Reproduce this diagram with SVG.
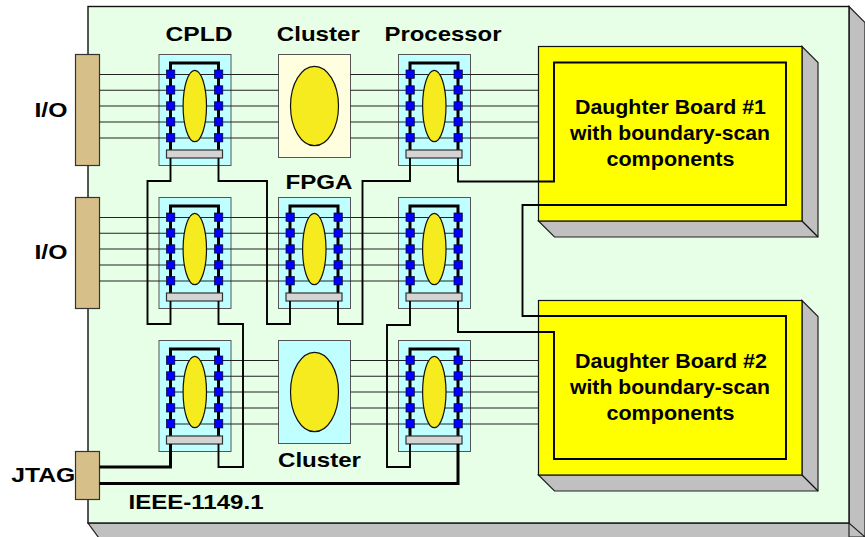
<svg xmlns="http://www.w3.org/2000/svg" xmlns:xlink="http://www.w3.org/1999/xlink" width="865" height="537" viewBox="0 0 865 537">
<style>
text{font-family:"Liberation Sans",Arial,sans-serif;font-weight:bold;fill:#000;text-anchor:middle}
.lbl{font-size:21px}
.db{font-size:20px}
.side{fill:#C0C0C0;stroke:#222;stroke-width:1.2}
.tan{fill:#D7BF8A;stroke:#333;stroke-width:1.2}
.cell{fill:#C0FFFF;stroke:#555;stroke-width:1}
.cream{fill:#FFFFE0;stroke:#555;stroke-width:1}
.el{fill:#F5EB1E;stroke:#111;stroke-width:1.2}
.yellow{fill:#FFFF00;stroke:#111;stroke-width:1.2}
.pin{fill:#0000FF;stroke:#002;stroke-width:.7}
.bar{fill:#D4D4D4;stroke:#333;stroke-width:1.2}
.sig{fill:none;stroke:#222;stroke-width:1.1}
.thick{fill:none;stroke:#000;stroke-width:3}
.wire{fill:none;stroke:#000;stroke-width:1.9}
</style>
<defs>
<g id="chip">
<rect class="cell" x="0.5" y="0.5" width="72" height="111"/>
<path class="sig" d="M12 20.5H60M12 36.3H60M12 52H60M12 68H60M12 84H60"/>
<path class="thick" d="M12 96V9H60V96"/>
<ellipse class="el" cx="36.3" cy="52" rx="11.7" ry="35.7"/>
<g class="pin">
<rect x="8" y="16" width="8.3" height="8.3"/><rect x="8" y="31.8" width="8.3" height="8.3"/><rect x="8" y="47.8" width="8.3" height="8.3"/><rect x="8" y="63.7" width="8.3" height="8.3"/><rect x="8" y="79.6" width="8.3" height="8.3"/>
<rect x="56" y="16" width="8.3" height="8.3"/><rect x="56" y="31.8" width="8.3" height="8.3"/><rect x="56" y="47.8" width="8.3" height="8.3"/><rect x="56" y="63.7" width="8.3" height="8.3"/><rect x="56" y="79.6" width="8.3" height="8.3"/>
</g>
<rect class="bar" x="8" y="96" width="56" height="8"/>
</g>
</defs>
<rect width="865" height="537" fill="#FFFFFF"/>
<g id="board">
<path class="side" d="M849 6.5L865 22.5V537H849ZM88 523H849L865 537V545H104Z"/>
<rect x="88" y="6.5" width="761" height="516.5" fill="#E6FFE6" stroke="#111" stroke-width="1.4"/>
</g>
<g id="io1"><rect class="tan" x="75.5" y="54.5" width="24" height="111"/><text class="lbl" x="51" y="117" textLength="33" lengthAdjust="spacingAndGlyphs">I/O</text></g>
<g id="io2"><rect class="tan" x="75.5" y="197.5" width="24" height="111"/><text class="lbl" x="51" y="258.5" textLength="33" lengthAdjust="spacingAndGlyphs">I/O</text></g>
<g id="jtag"><rect class="tan" x="75.5" y="451.5" width="24" height="48"/><text class="lbl" x="43.3" y="482" textLength="64" lengthAdjust="spacingAndGlyphs">JTAG</text></g>
<g id="cpld"><use xlink:href="#chip" x="158.5" y="54"/><text class="lbl" x="199" y="41" textLength="67" lengthAdjust="spacingAndGlyphs">CPLD</text></g>
<g id="cluster1"><rect class="cream" x="278.5" y="54.5" width="72" height="103"/><ellipse class="el" cx="314.5" cy="106" rx="24" ry="39.7"/><text class="lbl" x="318.3" y="41" textLength="83" lengthAdjust="spacingAndGlyphs">Cluster</text></g>
<g id="processor"><use xlink:href="#chip" x="398" y="54"/><text class="lbl" x="443" y="41" textLength="117" lengthAdjust="spacingAndGlyphs">Processor</text></g>
<g id="chip-r2c1"><use xlink:href="#chip" x="158.5" y="197"/></g>
<g id="fpga"><use xlink:href="#chip" x="278" y="197"/><text class="lbl" x="319" y="189" textLength="67" lengthAdjust="spacingAndGlyphs">FPGA</text></g>
<g id="chip-r2c3"><use xlink:href="#chip" x="398" y="197"/></g>
<g id="chip-r3c1"><use xlink:href="#chip" x="158.5" y="340"/></g>
<g id="cluster2"><rect class="cell" x="278.5" y="340.5" width="72" height="103"/><ellipse class="el" cx="314.5" cy="392" rx="24" ry="39.7"/><text class="lbl" x="319.5" y="467" textLength="83" lengthAdjust="spacingAndGlyphs">Cluster</text></g>
<g id="chip-r3c3"><use xlink:href="#chip" x="398" y="340"/></g>
<g id="daughter1">
<path class="side" d="M802 46.5L818 62.5V237H554.5L538.5 221H802Z"/>
<path fill="none" stroke="#111" stroke-width="1.2" d="M802 221L818 237"/>
<rect class="yellow" x="538.5" y="46.5" width="263.5" height="174.5"/>
<text class="db" x="670.5" y="114" textLength="191" lengthAdjust="spacingAndGlyphs">Daughter Board #1</text><text class="db" x="670" y="140" textLength="200" lengthAdjust="spacingAndGlyphs">with boundary-scan</text><text class="db" x="670.5" y="166" textLength="128" lengthAdjust="spacingAndGlyphs">components</text>
</g>
<g id="daughter2">
<path class="side" d="M802 300.5L818 316.5V491H554.5L538.5 475H802Z"/>
<path fill="none" stroke="#111" stroke-width="1.2" d="M802 475L818 491"/>
<rect class="yellow" x="538.5" y="300.5" width="263.5" height="174.5"/>
<text class="db" x="671" y="368" textLength="192" lengthAdjust="spacingAndGlyphs">Daughter Board #2</text><text class="db" x="670" y="394" textLength="200" lengthAdjust="spacingAndGlyphs">with boundary-scan</text><text class="db" x="670.5" y="420" textLength="128" lengthAdjust="spacingAndGlyphs">components</text>
</g>
<text class="lbl" x="196" y="509" id="ieee-label" textLength="135" lengthAdjust="spacingAndGlyphs">IEEE-1149.1</text>
<g id="connectors">
<path class="sig" d="M99.5 74.5H166.5M222.5 74.5H278.5M350.5 74.5H406M462 74.5H538.5M99.5 90.3H166.5M222.5 90.3H278.5M350.5 90.3H406M462 90.3H538.5M99.5 106H166.5M222.5 106H278.5M350.5 106H406M462 106H538.5M99.5 122H166.5M222.5 122H278.5M350.5 122H406M462 122H538.5M99.5 138H166.5M222.5 138H278.5M350.5 138H406M462 138H538.5"/>
<path class="sig" d="M99.5 217.5H166.5M222.5 217.5H286M342 217.5H406M99.5 233.3H166.5M222.5 233.3H286M342 233.3H406M99.5 249H166.5M222.5 249H286M342 249H406M99.5 265H166.5M222.5 265H286M342 265H406M99.5 281H166.5M222.5 281H286M342 281H406"/>
<path class="sig" d="M222.5 360.5H278.5M350.5 360.5H406M462 360.5H538.5M222.5 376.3H278.5M350.5 376.3H406M462 376.3H538.5M222.5 392H278.5M350.5 392H406M462 392H538.5M222.5 408H278.5M350.5 408H406M462 408H538.5M222.5 424H278.5M350.5 424H406M462 424H538.5"/>
<path class="wire" d="M170.5 158V181H147.5V324H170.5V301"/>
<path class="wire" d="M218.5 158V181H267V324H290V301"/>
<path class="wire" d="M338 301V324H362.5V181H410V158"/>
<path class="wire" d="M218.5 301V324H243V467H218.5V444"/>
<path class="wire" d="M410 301V325H387V467H410V444"/>
<path class="wire" d="M458 158V181.5H554V62.5H786V205H522.5V316H786V459H554V332H458V301"/>
<path class="thick" d="M99.5 467H170.5V444"/>
<path class="thick" d="M99.5 483.5H458V444"/>
</g>
</svg>
